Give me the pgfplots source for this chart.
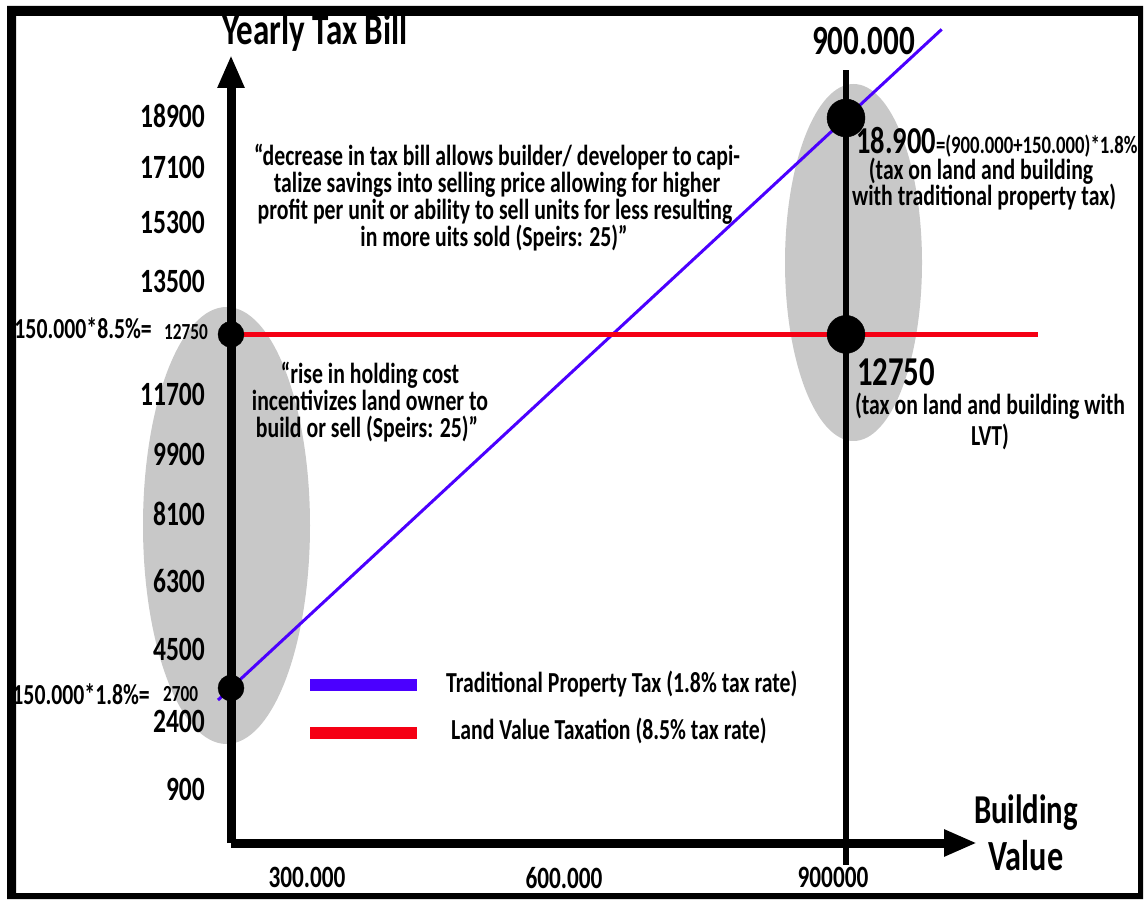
\documentclass[border=0pt]{standalone}
\usepackage{fontspec}
\setmainfont{Carlito}[FakeStretch=0.75]
\usepackage{pgfplots}
\pgfplotsset{compat=1.18}
\usetikzlibrary{arrows.meta}
\definecolor{ptax}{RGB}{75,0,255}
\definecolor{lvt}{RGB}{245,0,20}
\definecolor{halo}{RGB}{200,200,200}
\newcommand{\fs}[1]{\fontsize{#1}{#1}\selectfont\bfseries}

\begin{document}
\begin{tikzpicture}
% 1pt = 1px of the reference, y measured from the bottom edge
\fill[even odd rule] (7pt,0pt) rectangle (1143pt,893pt) (16pt,6pt) rectangle (1138pt,883pt);
\fill[halo] (226.5pt,373.5pt) ellipse [x radius=83.5pt, y radius=218.5pt];
\fill[halo] (853.5pt,636.5pt) ellipse [x radius=68.5pt, y radius=178.5pt];

\begin{axis}[
    at={(231pt,56pt)}, anchor=south west,
    width=746pt, height=788pt, scale only axis,
    xmin=0, xmax=1091700, ymin=-1705, ymax=20691,
    axis lines=left,
    axis line style={line width=9pt, -{Triangle[length=33pt,width=25pt]}},
    clip=false,
    scaled ticks=false,
    major tick length=0pt,
    xtick={111220,487317,880976},
    xticklabels={300.000,600.000,900000},
    ytick={-171,1762,3808,5741,7645,9336,11056,14267,15944,17507,18971},
    yticklabels={900,2400,4500,6300,8100,9900,11700,13500,15300,17100,18900},
    yticklabel style={font=\fs{34}, inner sep=0pt, xshift=-26pt},
    xticklabel style={font=\fs{31}, inner sep=0pt, yshift=-24pt},
    legend style={at={(axis cs:106800,3179)}, anchor=north west, draw=none, fill=none,
        inner sep=0pt, font=\fs{29}, row sep=19.5pt, column sep=23pt,
        nodes={inner sep=0pt, text height=21pt, text depth=7pt}},
    legend image code/.code={\draw[line width=12pt, line cap=butt] (0pt,0pt) -- (107pt,0pt);},
    legend cell align=left,
]
    % Traditional property tax: 1.8% of (building + 150.000 land)
    \addplot[ptax, line width=3pt] coordinates {(-19000,2358) (0,2700) (900000,18900) (1040000,21420)};
    \addlegendentry{Traditional Property Tax (1.8\% tax rate)}
    % Land value tax: 8.5% of land value only
    \addplot[lvt, line width=4.5pt] coordinates {(0,12750) (900000,12750) (1181000,12750)};
    \addlegendentry{\hspace{5pt}Land Value Taxation (8.5\% tax rate)}

    \draw[line width=6pt] (axis cs:900000,20264) -- (axis cs:900000,-2330);

    \addplot[only marks, mark=*, mark size=13pt, black, forget plot] coordinates {(0,2700) (0,12750)};
    \addplot[only marks, mark=*, mark size=19pt, black, forget plot] coordinates {(900000,18900) (900000,12750)};
\end{axis}

% titles
\node[anchor=base west, inner sep=0pt, font=\fs{44}] at (222pt,854pt) {Yearly Tax Bill};
\node[anchor=base west, inner sep=0pt, font=\fs{41.5}] at (812pt,844pt) {900.000};
\node[anchor=base, inner sep=0pt, font=\fs{41}] at (1026pt,75pt) {Building};
\node[anchor=base, inner sep=0pt, font=\fs{43}] at (1026pt,29pt) {Value};

% formula labels on the y axis
\node[anchor=east, inner sep=0pt, font=\fs{29}] at (152pt,571pt) {150.000*8.5\%=};
\node[anchor=west, inner sep=0pt, font=\fs{23}] at (164pt,567pt) {12750};
\node[anchor=east, inner sep=0pt, font=\fs{29}] at (150pt,205pt) {150.000*1.8\%=};
\node[anchor=west, inner sep=0pt, font=\fs{23}] at (163pt,205pt) {2700};

% quotes
\begin{scope}[every node/.style={anchor=base, inner sep=0pt, font=\fs{29}}]
\node at (497pt,733pt) {“decrease in tax bill allows builder/ developer to capi-};
\node at (497pt,706pt) {talize savings into selling price allowing for higher};
\node at (495pt,679pt) {profit per unit or ability to sell units for less resulting};
\node at (494pt,652pt) {in more uits sold (Speirs: 25)”};
\node at (370pt,515pt) {“rise in holding cost};
\node at (370pt,488pt) {incentivizes land owner to};
\node at (367pt,461pt) {build or sell (Speirs: 25)”};
\node at (981pt,719pt) {(tax on land and building};
\node at (984pt,693pt) {with traditional property tax)};
\node at (990pt,484pt) {(tax on land and building with};
\node at (990pt,453pt) {LVT)};
\end{scope}

\node[anchor=base west, inner sep=0pt] at (856pt,745pt)
    {\fs{38}18.900\fs{25}=(900.000+150.000)*1.8\%};
\node[anchor=base west, inner sep=0pt, font=\fs{41}] at (857pt,513pt) {12750};

\pgfresetboundingbox
\useasboundingbox (0pt,0pt) rectangle (1145pt,899pt);
\end{tikzpicture}
\end{document}
